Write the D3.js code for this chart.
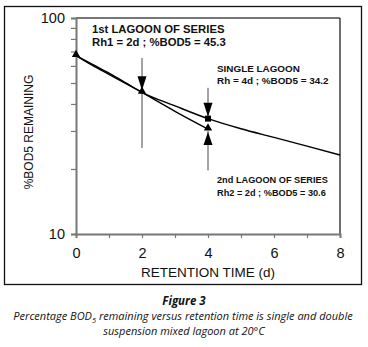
<!DOCTYPE html>
<html>
<head>
<meta charset="utf-8">
<script src="https://cdn.jsdelivr.net/npm/d3@7"></script>
<style>
  body { margin: 0; background: #fff; }
  svg { display: block; font-family: "Liberation Sans", Arial, sans-serif; }
</style>
</head>
<body>
<div id="graph"></div>
<script>
let w = 368;
let h = 347;

// single lagoon curve (t in days, %BOD5 remaining)
let singleT = [0, 0.5, 1, 1.5, 2, 3, 4, 5, 6, 7, 8];
let singleV = [67, 61, 55.5, 50.2, 45.3, 39.2, 34.2, 30.7, 28, 25.5, 23.2];

// lagoons in series
let series1T = [0, 0.5, 1, 1.5, 2];
let series1V = [67, 60.3, 54.8, 49.8, 45.3];
let series2T = [2, 2.5, 3, 3.5, 4];
let series2V = [45.3, 40.9, 37, 33.6, 30.6];

let xTicks = [0, 1, 2, 3, 4, 5, 6, 7, 8];
let xLabels = [0, 2, 4, 6, 8];
let yTicks = [10, 20, 30, 40, 50, 60, 70, 80, 90, 100];
let yLabels = [10, 100];

let xScale = d3.scaleLinear().domain([0, 8]).range([76, 340]);
let yScale = d3.scaleLog().domain([10, 100]).range([234, 18]);

let viz = d3.select("#graph").append("svg")
  .attr("width", w)
  .attr("height", h);

// outer frame
viz.append("rect")
  .attr("x", 4.5).attr("y", 6.5)
  .attr("width", 357).attr("height", 278)
  .attr("fill", "none").attr("stroke", "#111").attr("stroke-width", 1.3);

// plot frame top + right
viz.append("line")
  .attr("x1", xScale(0)).attr("x2", xScale(8))
  .attr("y1", yScale(100)).attr("y2", yScale(100))
  .attr("stroke", "#777").attr("stroke-width", 2);
viz.append("line")
  .attr("x1", xScale(8)).attr("x2", xScale(8))
  .attr("y1", yScale(100)).attr("y2", yScale(10))
  .attr("stroke", "#222").attr("stroke-width", 1.3);

let yAxis = d3.axisLeft(yScale)
  .tickValues(yTicks)
  .tickSize(5)
  .tickPadding(6)
  .tickFormat(function(d){ return yLabels.indexOf(d) >= 0 ? d : ""; });
let yAxisGroup = viz.append("g").attr("class", "yaxis")
  .attr("transform", "translate(" + xScale(0) + ",0)")
  .call(yAxis);

let xAxis = d3.axisBottom(xScale)
  .tickValues(xTicks)
  .tickSize(4)
  .tickPadding(10)
  .tickFormat(function(d){ return xLabels.indexOf(d) >= 0 ? d : ""; });
let xAxisGroup = viz.append("g").attr("class", "xaxis")
  .attr("transform", "translate(0," + yScale(10) + ")")
  .call(xAxis);

[yAxisGroup, xAxisGroup].forEach(function(g){
  g.select(".domain").attr("stroke", "#777").attr("stroke-width", 2);
  g.selectAll(".tick line").attr("stroke", "#777").attr("stroke-width", 1.2);
  g.selectAll(".tick text")
    .attr("fill", "#111")
    .style("font-size", "14.5px")
    .style("font-family", "Liberation Sans, Arial, sans-serif");
});
xAxisGroup.selectAll(".tick").filter(function(d){ return d == 0; }).select("line").remove();

// axis titles
viz.append("text")
  .attr("x", 208).attr("y", 277)
  .attr("text-anchor", "middle")
  .style("font-size", "13.5px")
  .attr("fill", "#111")
  .text("RETENTION TIME (d)");
viz.append("text")
  .attr("transform", "translate(33,132) rotate(-90)")
  .attr("text-anchor", "middle")
  .style("font-size", "12px")
  .attr("fill", "#111")
  .text("%BOD5 REMAINING");

// curves
let line = d3.line()
  .x(function(d){ return xScale(d[0]); })
  .y(function(d){ return yScale(d[1]); })
  .curve(d3.curveMonotoneX);

function pairs(ts, vs){
  return ts.map(function(t, i){ return [t, vs[i]]; });
}

viz.append("path")
  .datum(pairs(singleT, singleV))
  .attr("d", line)
  .attr("fill", "none").attr("stroke", "#000").attr("stroke-width", 1.4);
viz.append("path")
  .datum(pairs(series1T, series1V))
  .attr("d", line)
  .attr("fill", "none").attr("stroke", "#000").attr("stroke-width", 1.4);
viz.append("path")
  .datum(pairs(series2T, series2V))
  .attr("d", line)
  .attr("fill", "none").attr("stroke", "#000").attr("stroke-width", 1.4);

// annotation lines
function vline(t, v1, v2){
  viz.append("line")
    .attr("x1", xScale(t)).attr("x2", xScale(t))
    .attr("y1", yScale(v1)).attr("y2", yScale(v2))
    .attr("stroke", "#333").attr("stroke-width", 0.9);
}
vline(2, 65.3, 25);
vline(4, 47.5, 35);
vline(4, 30, 19.7);

// arrow heads
function arrowDown(t, v){
  let x = xScale(t), y = yScale(v) - 2;
  viz.append("path")
    .attr("d", "M" + x + "," + y + "L" + (x - 4.5) + "," + (y - 14) + "L" + (x + 4.5) + "," + (y - 14) + "Z")
    .attr("fill", "#000");
}
function arrowUp(t, v){
  let x = xScale(t), y = yScale(v) + 3;
  viz.append("path")
    .attr("d", "M" + x + "," + y + "L" + (x - 4.5) + "," + (y + 13) + "L" + (x + 4.5) + "," + (y + 13) + "Z")
    .attr("fill", "#000");
}
arrowDown(2, 45.3);
arrowDown(4, 34.2);
arrowUp(4, 30.6);

// point markers
let tri = d3.symbol().type(d3.symbolTriangle).size(30);
let triPts = [[0, 67], [2, 45.3], [4, 30.6]];
viz.selectAll(".tri").data(triPts).enter()
  .append("path")
  .attr("class", "tri")
  .attr("d", tri)
  .attr("transform", function(d){ return "translate(" + xScale(d[0]) + "," + (yScale(d[1]) - 1) + ")"; })
  .attr("fill", "#000");
viz.append("path")
  .attr("d", d3.symbol().type(d3.symbolSquare).size(36))
  .attr("transform", "translate(" + xScale(4) + "," + yScale(34.2) + ")")
  .attr("fill", "#000");

// annotation texts
let notes = [
  [92, 33, 11.3, "1st LAGOON OF SERIES"],
  [92, 46, 11.3, "Rh1 = 2d ; %BOD5 = 45.3"],
  [217, 72, 9.9, "SINGLE LAGOON"],
  [217, 84, 9.9, "Rh = 4d ; %BOD5 = 34.2"],
  [217, 183, 9.2, "2nd LAGOON OF SERIES"],
  [217, 196, 9.2, "Rh2 = 2d ; %BOD5 = 30.6"]
];
viz.selectAll(".note").data(notes).enter()
  .append("text")
  .attr("class", "note")
  .attr("x", function(d){ return d[0]; })
  .attr("y", function(d){ return d[1]; })
  .style("font-size", function(d){ return d[2] + "px"; })
  .style("font-weight", "bold")
  .attr("fill", "#111")
  .text(function(d){ return d[3]; });

// caption
let cap = viz.append("g")
  .style("font-family", "'Open Sans', 'DejaVu Sans', sans-serif")
  .style("font-style", "italic")
  .attr("fill", "#111");
cap.append("text")
  .attr("x", 184).attr("y", 305)
  .attr("text-anchor", "middle")
  .style("font-size", "11.5px")
  .style("font-weight", "bold")
  .text("Figure 3");
let l2 = cap.append("text")
  .attr("x", 183).attr("y", 320)
  .attr("text-anchor", "middle")
  .style("font-size", "11px");
l2.append("tspan").text("Percentage BOD");
l2.append("tspan").attr("dy", 3).style("font-size", "7.5px").text("5");
l2.append("tspan").attr("dy", -3).text(" remaining versus retention time is single and double");
cap.append("text")
  .attr("x", 184).attr("y", 335)
  .attr("text-anchor", "middle")
  .style("font-size", "11px")
  .text("suspension mixed lagoon at 20\u00B0C");
</script>
</body>
</html>
